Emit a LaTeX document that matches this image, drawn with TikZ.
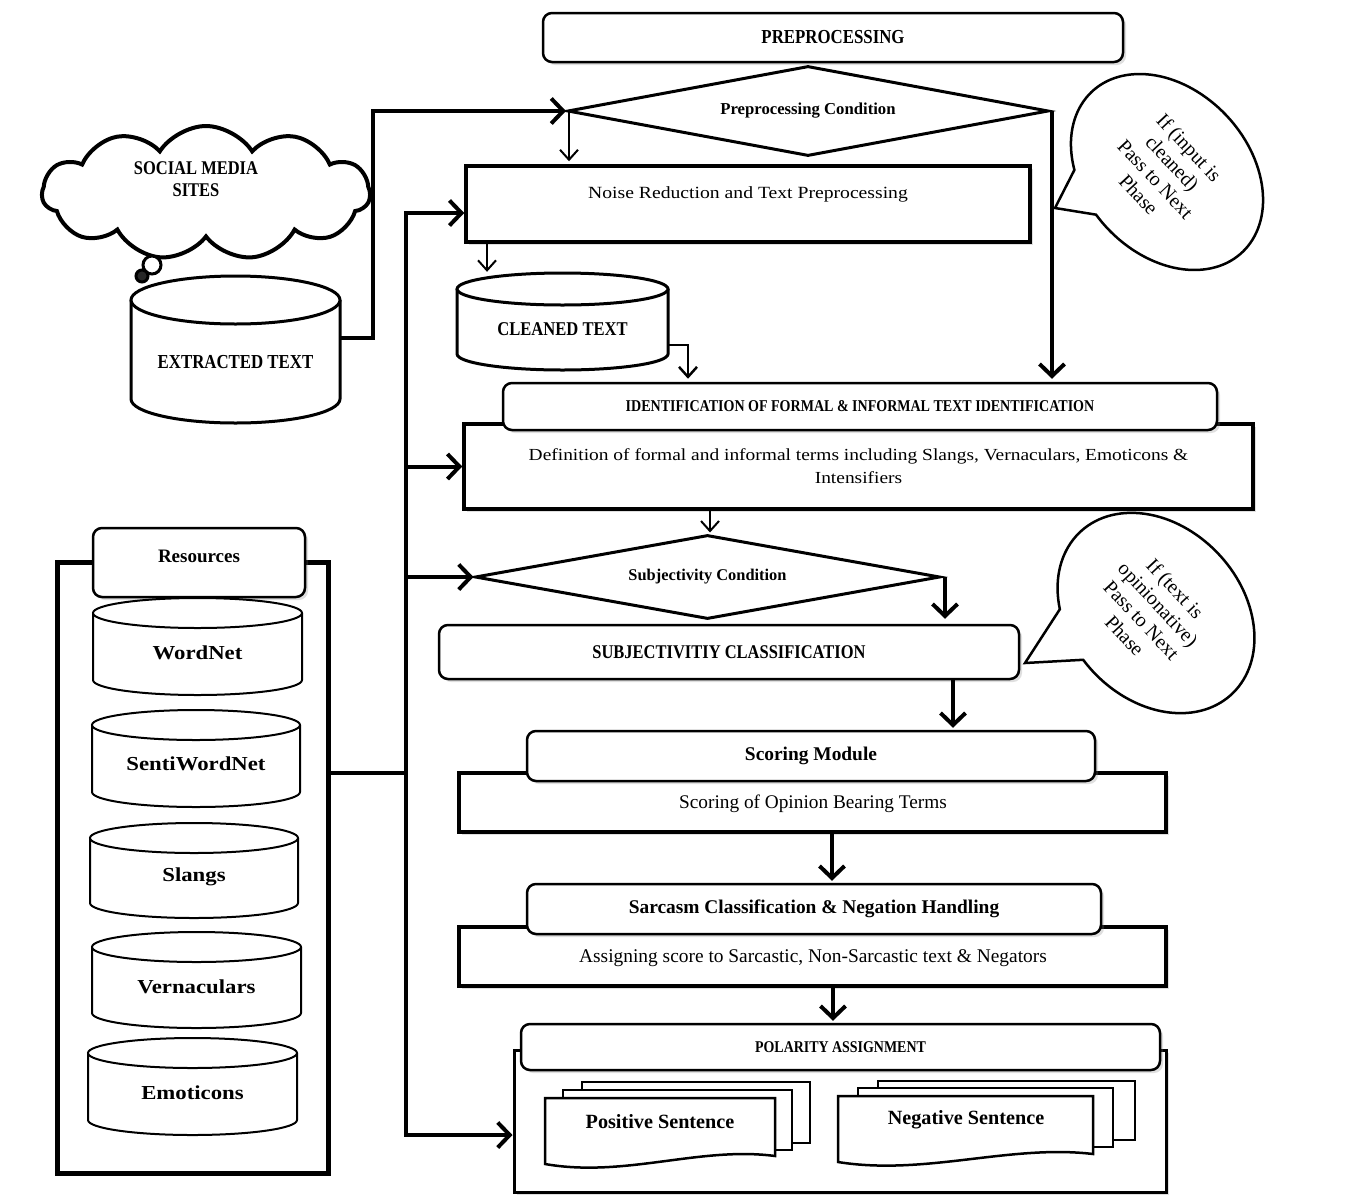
\documentclass[tikz,border=0pt]{standalone}
\usepackage{fontspec}
\setmainfont{Liberation Serif}
\newfontfamily\hf{Liberation Serif}[FakeStretch=0.85]
\newfontfamily\wf{Liberation Serif}[FakeStretch=1.15]
\usetikzlibrary{arrows.meta,shapes.geometric,shapes.symbols,shadows,calc}

% name, x1, x2, ytop-centre, ybottom-centre, ry, linewidth, text y, text
\newcommand{\dbcyl}[9]{%
  \pgfmathsetmacro\cylcx{(#2+#3)/2}%
  \pgfmathsetmacro\cylrx{(#3-#2)/2}%
  \pgfmathsetmacro\cylcy{(#4+#5)/2}%
  \pgfmathsetmacro\cylh{#5-#4+2*#6}%
  \pgfmathsetmacro\cylw{#3-#2}%
  \pgfmathsetmacro\cylkx{0.5523*\cylrx}%
  \pgfmathsetmacro\cylky{0.5523*#6}%
  \pgfmathsetmacro\cylyb{#5+#6}%
  \pgfmathsetmacro\cylyk{#5+\cylky}%
  \fill[white] (#2,#4) rectangle (#3,#5);
  \draw[line width=#7, fill=white] (#2,#4) -- (#2,#5)
     .. controls (#2,\cylyk) and ({\cylcx-\cylkx},\cylyb) .. (\cylcx,\cylyb)
     .. controls ({\cylcx+\cylkx},\cylyb) and (#3,\cylyk) .. (#3,#5) -- (#3,#4);
  \draw[line width=#7, fill=white] (\cylcx,#4) ellipse[x radius=\cylrx, y radius=#6];
  \node[inner sep=0, minimum width=\cylw, minimum height=\cylh] (#1) at (\cylcx,\cylcy) {};
  \node[inner sep=0] (#1-t) at (\cylcx,#8) {#9};
}

\begin{document}
\begin{tikzpicture}[x=1pt,y=-1pt,
  shd/.style={drop shadow={shadow xshift=3pt, shadow yshift=-3pt, opacity=0.25}},
  hdr/.style={draw, line width=2.5pt, rounded corners=9pt, fill=white, shd, inner sep=0},
  bodybox/.style={draw, line width=3.5pt, fill=white, shd, inner sep=0},
  cond/.style={diamond, draw, line width=3pt, fill=white, inner sep=0},
  thickarrow/.style={line width=4pt, -{Straight Barb[length=12pt,width=25pt]}},
  thinarrow/.style={line width=2pt, -{Straight Barb[length=10pt,width=18pt]}},
  bus/.style={line width=4.5pt},
  lbl/.style={inner sep=0},
  bubtext/.style={inner sep=0, rotate=-47, align=center, font=\fontsize{20}{23}\selectfont},
  bubble/.style={line width=2.5pt, fill=white, line join=miter},
  docpage/.style={draw, line width=2.5pt, fill=white}
]
\useasboundingbox (0,0) rectangle (1348,1197);

% ---------- social media cloud and extracted text ----------
\node[cloud, draw, line width=4pt, fill=white, cloud puffs=11, cloud puff arc=115,
      aspect=2.4, minimum width=328, minimum height=134, inner sep=0] (cloud) at (206,193) {};
\node[lbl, align=center, font=\hf\bfseries\fontsize{19.4}{22}\selectfont] (cloudt) at (196,179) {SOCIAL MEDIA\\SITES};

\dbcyl{ext}{131}{340}{300}{399}{24}{3pt}{362}{\hf\bfseries\fontsize{19.8}{22}\selectfont EXTRACTED TEXT}

\node[circle, draw, line width=3pt, fill=white, minimum size=18, inner sep=0] (ring) at (152,265) {};
\node[circle, draw, line width=3pt, fill=black!85, minimum size=12, inner sep=0] (blob) at (142,276) {};

% ---------- preprocessing ----------
\node[hdr, minimum width=580, minimum height=49, font=\hf\bfseries\fontsize{19.8}{22}\selectfont] (pre) at (833,37.5) {PREPROCESSING};

\node[cond, aspect=5.3, minimum width=481, minimum height=90, font=\bfseries\fontsize{16.7}{20}\selectfont] (pcond) at (808,111) {Preprocessing Condition};

\node[bodybox, minimum width=564, minimum height=76] (noise) at (748,204) {};
\node[lbl, font=\wf\fontsize{17.1}{20}\selectfont] (noiset) at (748,194) {Noise Reduction and Text Preprocessing};

\dbcyl{cl}{457}{668}{289}{354}{16}{3pt}{329}{\hf\bfseries\fontsize{19.5}{22}\selectfont CLEANED TEXT}

% ---------- identification ----------
\node[bodybox, minimum width=789, minimum height=85, align=center, font=\wf\fontsize{16.9}{23}\selectfont] (defn) at (858.5,466.5)
  {Definition of formal and informal terms including Slangs, Vernaculars, Emoticons \&\\Intensifiers};
\node[hdr, minimum width=714, minimum height=47, font=\hf\bfseries\fontsize{16.5}{20}\selectfont] (ident) at (860,406.5)
  {IDENTIFICATION OF FORMAL \& INFORMAL TEXT IDENTIFICATION};

% ---------- subjectivity ----------
\node[cond, aspect=5.5, minimum width=465, minimum height=84, font=\bfseries\fontsize{16.4}{20}\selectfont] (scond) at (707.5,577) {Subjectivity Condition};

\node[hdr, minimum width=580, minimum height=54, font=\hf\bfseries\fontsize{19.4}{22}\selectfont] (subj) at (729,652) {SUBJECTIVITIY CLASSIFICATION};

% ---------- scoring ----------
\node[bodybox, minimum width=707, minimum height=59] (scbody) at (812.5,802.5) {};
\node[lbl, font=\fontsize{19.3}{22}\selectfont] (scbodyt) at (813,804) {Scoring of Opinion Bearing Terms};
\node[hdr, minimum width=568, minimum height=50, font=\bfseries\fontsize{19.4}{22}\selectfont] (schd) at (811,756) {Scoring Module};

% ---------- sarcasm ----------
\node[bodybox, minimum width=707, minimum height=59] (sabody) at (812.5,956.5) {};
\node[lbl, font=\fontsize{19.4}{22}\selectfont] (sabodyt) at (813,958) {Assigning score to Sarcastic, Non-Sarcastic text \& Negators};
\node[hdr, minimum width=574, minimum height=50, font=\bfseries\fontsize{19.4}{22}\selectfont] (sahd) at (814,909) {Sarcasm Classification \& Negation Handling};

% ---------- polarity ----------
\node[bodybox, line width=3pt, minimum width=652, minimum height=142] (polbody) at (840,1121) {};
\node[hdr, minimum width=639, minimum height=46, font=\hf\bfseries\fontsize{16.4}{20}\selectfont] (polhd) at (840.5,1047) {POLARITY ASSIGNMENT};

\draw[docpage] (582,1082) rectangle (810,1143);
\draw[docpage] (563,1090) rectangle (792,1150);
\draw[docpage] (545,1098) -- (775,1098) -- (775,1156) .. controls (700,1146) and (625,1178) .. (545,1164) -- cycle;
\node[inner sep=0, minimum width=230, minimum height=68] (pos) at (660,1131) {};
\node[lbl, font=\bfseries\fontsize{20.2}{22}\selectfont] (post) at (660,1122) {Positive Sentence};

\draw[docpage] (878,1081) rectangle (1135,1140);
\draw[docpage] (858,1088) rectangle (1113,1147);
\draw[docpage] (838,1096) -- (1093,1096) -- (1093,1154) .. controls (1010,1144) and (925,1176) .. (838,1162) -- cycle;
\node[inner sep=0, minimum width=255, minimum height=68] (neg) at (965,1129) {};
\node[lbl, font=\bfseries\fontsize{20.2}{22}\selectfont] (negt) at (966,1120) {Negative Sentence};

% ---------- resources ----------
\node[draw, line width=5pt, minimum width=271, minimum height=611, inner sep=0] (resbox) at (192.5,867.5) {};
\node[hdr, minimum width=212, minimum height=69] (reshd) at (199,562.5) {};
\node[lbl, font=\bfseries\fontsize{19}{22}\selectfont] (reshdt) at (199,556) {Resources};

\dbcyl{wn}{93}{302}{613}{680}{15}{2pt}{653}{\wf\bfseries\fontsize{19.8}{22}\selectfont WordNet}
\dbcyl{swn}{92}{300}{725}{792}{15}{2pt}{764}{\wf\bfseries\fontsize{19.8}{22}\selectfont SentiWordNet}
\dbcyl{sl}{90}{298}{838}{903}{15}{2pt}{877}{\wf\bfseries\fontsize{19.8}{22}\selectfont Slangs}
\dbcyl{ver}{92}{301}{947}{1013}{15}{2pt}{987}{\wf\bfseries\fontsize{19.8}{22}\selectfont Vernaculars}
\dbcyl{emo}{88}{297}{1053}{1120}{15}{2pt}{1093}{\wf\bfseries\fontsize{19.8}{22}\selectfont Emoticons}

% ---------- speech bubbles ----------
\coordinate (tip1) at (1055,208);
\draw[bubble, shift={(1167,172)}, rotate=-47]
  (126:110 and 82) arc[start angle=126, end angle=459, x radius=110, y radius=82] -- (tip1) -- cycle;
\node[bubtext] (bub1) at (1164,171) {If (input is\\cleaned)\\Pass to Next\\Phase};

\coordinate (tip2) at (1025,663);
\draw[bubble, shift={(1156,613)}, rotate=-47]
  (128:111 and 86) arc[start angle=128, end angle=458, x radius=111, y radius=86] -- (tip2) -- cycle;
\node[bubtext] (bub2) at (1150,612) {If (text is\\opinionative)\\Pass to Next\\Phase};

% ---------- connectors ----------
\coordinate (e1) at ([yshift=12pt]ext.east);
\draw[thickarrow] (e1) -- ++(33,0) |- (pcond.west);

\coordinate (b1) at (406,213);
\coordinate (b2) at (406,466.5);
\coordinate (b3) at (406,577);
\coordinate (b4) at (406,1135);
\coordinate (b5) at (406,773);
\draw[thickarrow] (b4) -- (b1) -- (b1 -| noise.west);
\draw[thickarrow] (b1) -- (b4) -- (b4 -| polbody.west);
\draw[thickarrow] (b2) -- (b2 -| defn.west);
\draw[thickarrow] (b3) -- (scond.west);
\draw[bus] (b5 -| resbox.east) -- (b5);

\coordinate (pw) at ([xshift=3pt]pcond.west);
\draw[thinarrow, shorten >=3pt] (pw) -- (pw |- noise.north);
\coordinate (n1) at (487,242);
\draw[thinarrow, shorten >=1pt] (n1) -- (n1 |- cl.north);
\coordinate (c1) at (668,345);
\coordinate (c2) at (688,345);
\draw[thinarrow, line width=2.5pt, shorten >=3pt] (c1) -- (c2) -- (c2 |- ident.north);
\coordinate (r1) at (1052,111);
\draw[thickarrow, shorten >=3pt] (r1) -- (r1 |- ident.north);
\coordinate (d1) at (710,509);
\draw[thinarrow, shorten >=1pt] (d1) -- (d1 |- scond.north);
\coordinate (sc1) at (945,577);
\draw[thickarrow, shorten >=5pt] (sc1) -- (sc1 |- subj.north);
\coordinate (s1) at (953,679);
\draw[thickarrow, shorten >=2pt] (s1) -- (s1 |- schd.north);
\coordinate (s2) at (832,832);
\draw[thickarrow, shorten >=2pt] (s2) -- (s2 |- sahd.north);
\coordinate (s3) at (833,986);
\draw[thickarrow, shorten >=2pt] (s3) -- (s3 |- polhd.north);
\end{tikzpicture}
\end{document}
